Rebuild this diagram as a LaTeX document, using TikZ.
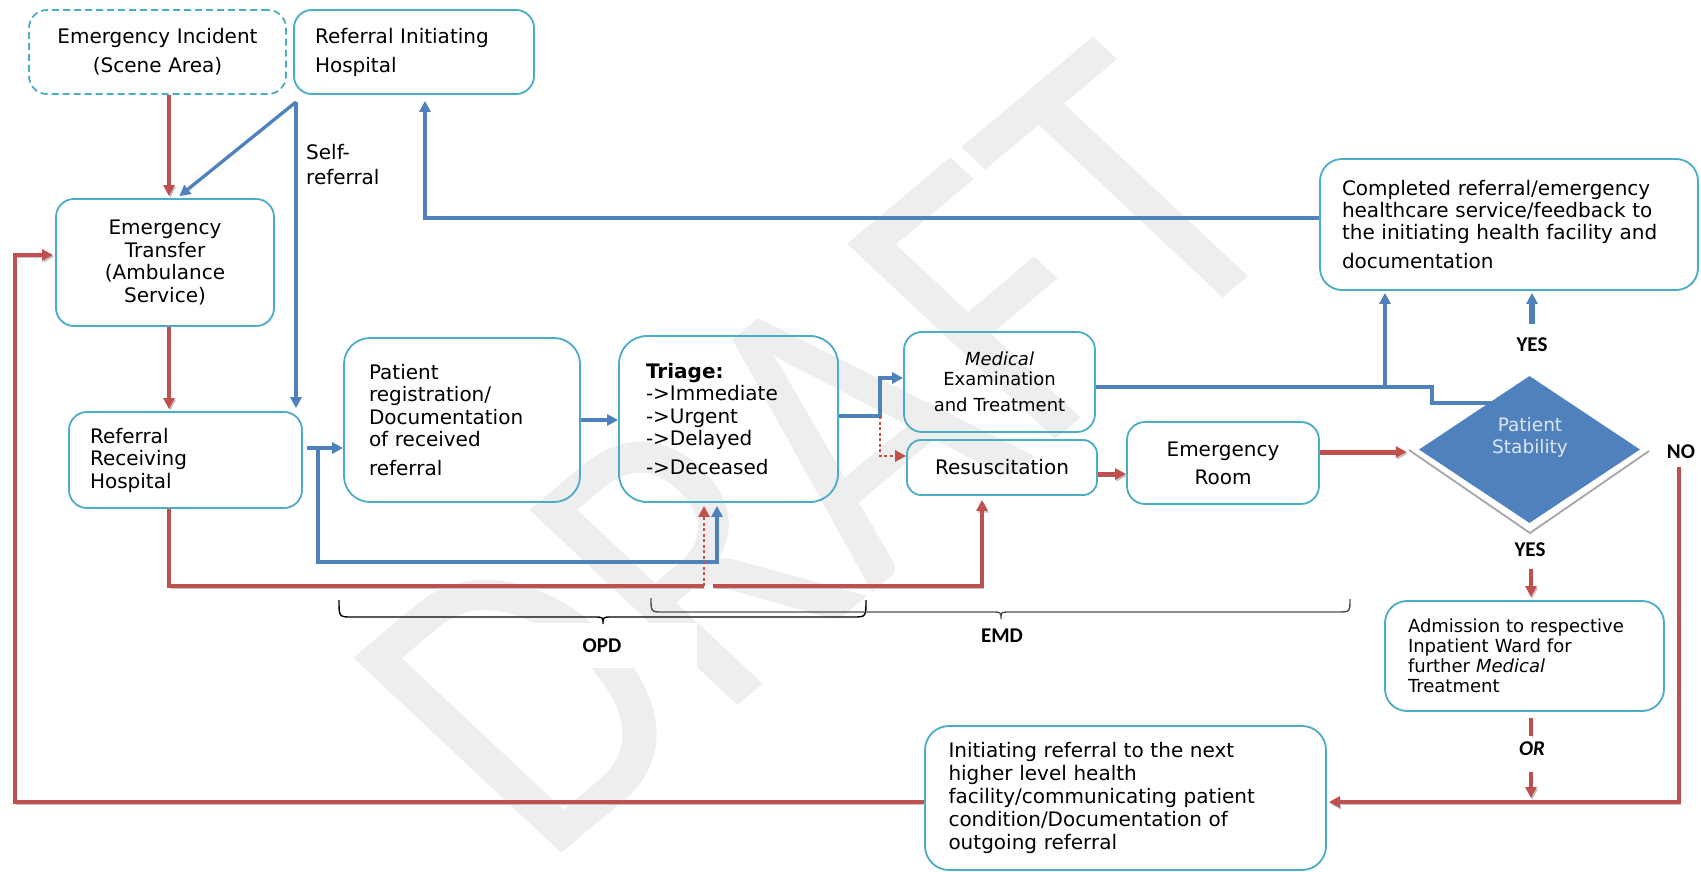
\documentclass[tikz,border=0pt]{standalone}
\usepackage{fontspec}
\setmainfont{DejaVu Sans}
\newfontfamily\calfont{Carlito}
\usetikzlibrary{arrows.meta,shapes.geometric}
\definecolor{boxc}{RGB}{75,172,198}
\definecolor{bluec}{RGB}{79,129,189}
\definecolor{redc}{RGB}{192,80,77}
\definecolor{dtext}{RGB}{222,228,242}
\definecolor{wmark}{RGB}{238,238,238}
\definecolor{bracec}{RGB}{80,80,80}
\begin{document}
\begin{tikzpicture}[x=1pt,y=-1pt,
  box/.style={draw=boxc, line width=1.8pt, rounded corners=18pt, inner sep=0pt, font=\fontsize{20}{22.5}\selectfont},
  bl/.style={draw=bluec, line width=3.3pt},
  blt/.style={draw=bluec, line width=5.5pt},
  rl/.style={draw=redc, line width=3.3pt, preaction={draw=black!22, transform canvas={xshift=1.2pt,yshift=-1.8pt}}},
  rlt/.style={draw=redc, line width=5pt, preaction={draw=black!22, transform canvas={xshift=1.2pt,yshift=-1.8pt}}},
  rdot/.style={draw=redc, line width=2.6pt, dash pattern=on 3pt off 2.5pt},
  arr/.style={-{Triangle[length=11pt,width=11pt]}},
  lbl/.style={inner sep=0pt, font=\fontsize{20}{25}\selectfont},
  yn/.style={inner sep=0pt, font=\calfont\bfseries\fontsize{21}{21}\selectfont},
  brace/.style={line width=1.4pt}
]
\useasboundingbox (0,0) rectangle (1701,872);
\fill[white] (0,0) rectangle (1701,872);

% watermark
\node[rotate=40, xslant=-0.12, yscale=1.19, text=wmark, inner sep=0pt, font=\calfont\fontsize{371}{371}\selectfont] (wm) at (820,452) {DRAFT};

% boxes
\node[box, dash pattern=on 7pt off 4pt, minimum width=257pt, minimum height=84pt, text width=230pt, align=center, font=\fontsize{20}{29}\selectfont] (inc) at (157.5,52) {Emergency Incident\\(Scene Area)};
\node[box, minimum width=240pt, minimum height=84pt, text width=198pt, align=left, font=\fontsize{20}{29}\selectfont] (rih) at (414,52) {Referral Initiating\\Hospital};
\node[box, minimum width=218pt, minimum height=127pt, text width=190pt, align=center] (et) at (165,262.5) {Emergency\\Transfer\\(Ambulance\\Service)};
\node[box, minimum width=233pt, minimum height=96pt, text width=191pt, align=left] (rrh) at (185.5,460) {Referral\\Receiving\\Hospital};
\node[box, rounded corners=26pt, minimum width=236pt, minimum height=164pt, text width=186pt, align=left] (prd) at (462,420) {Patient\\registration/\\Documentation\\of received\\[6pt]referral};
\node[box, rounded corners=28pt, minimum width=219pt, minimum height=166pt, text width=165pt, align=left] (tri) at (728.5,419) {\textbf{Triage:}\\->Immediate\\->Urgent\\->Delayed\\[6pt]->Deceased};
\node[box, minimum width=191pt, minimum height=100pt, text width=180pt, align=center, font=\fontsize{18}{20}\selectfont] (med) at (999.5,382) {\textit{Medical}\\Examination\\[6pt]and Treatment};
\node[box, rounded corners=14pt, minimum width=190pt, minimum height=55pt, text width=180pt, align=center] (res) at (1002,467.5) {Resuscitation};
\node[box, minimum width=192pt, minimum height=82pt, text width=180pt, align=center, font=\fontsize{20}{28}\selectfont] (er) at (1223,463) {Emergency\\Room};
\node[diamond, fill=bluec, minimum width=221pt, minimum height=147pt, inner sep=0pt] (ps) at (1529.5,449.5) {};
\node[text=dtext, align=center, inner sep=0pt, font=\fontsize{18.5}{22}\selectfont] (pst) at (1530,437) {Patient\\Stability};
\node[box, rounded corners=22pt, minimum width=378pt, minimum height=131pt, text width=334pt, align=left, font=\fontsize{20}{22}\selectfont] (comp) at (1509,224.5) {Completed referral/emergency\\healthcare service/feedback to\\the initiating health facility and\\[7pt]documentation};
\node[box, rounded corners=22pt, minimum width=279pt, minimum height=110pt, text width=233pt, align=left, font=\fontsize{18}{20}\selectfont] (adm) at (1524.5,656) {Admission to respective\\Inpatient Ward for\\further \textit{Medical}\\Treatment};
\node[box, rounded corners=24pt, minimum width=401pt, minimum height=144pt, text width=354pt, align=left, font=\fontsize{20}{22.8}\selectfont] (init) at (1125.5,798) {Initiating referral to the next\\higher level health\\facility/communicating patient\\condition/Documentation of\\outgoing referral};

% gray bevel under diamond
\draw[black!35, line width=1.8pt] (1409,450) -- (1530,533) -- (1649,451);

% labels
\node[lbl, anchor=west, align=left] (srl) at (306,164.5) {Self-\\referral};
\node[yn] (yes1) at (1532,345) {YES};
\node[yn] (yes2) at (1530,550) {YES};
\node[yn] (no) at (1681,452) {NO};
\node[yn, font=\calfont\bfseries\itshape\fontsize{21}{21}\selectfont] (orn) at (1532,749) {OR};
\node[yn, fill=white, minimum width=190pt, minimum height=45pt] (opd) at (602,645.5) {OPD};
\node[yn] (emd) at (1002,636) {EMD};

% coordinates
\coordinate (xa) at (169,0);
\coordinate (xb) at (177,0);
\coordinate (sr) at (296,102);
\coordinate (yb1) at (0,448);
\coordinate (bx1) at (318,448);
\coordinate (by1) at (0,562);
\coordinate (bx2) at (717,0);
\coordinate (ry) at (0,586);
\coordinate (rx1) at (704,0);
\coordinate (rx2) at (713,0);
\coordinate (rx3) at (982,0);
\coordinate (ty) at (0,416);
\coordinate (tx) at (880,0);
\coordinate (my) at (0,378);
\coordinate (ry2) at (0,456);
\coordinate (ery) at (0,474);
\coordinate (dy) at (0,452);
\coordinate (my2) at (0,387);
\coordinate (mx2) at (1432,0);
\coordinate (my3) at (0,403);
\coordinate (mx3) at (1508,403);
\coordinate (cx) at (1385,0);
\coordinate (rx) at (425,0);
\coordinate (cy) at (0,218);
\coordinate (ax) at (1531,0);
\coordinate (ry3) at (0,802);
\coordinate (nx) at (1679,0);
\coordinate (lx) at (15,0);
\coordinate (ly) at (0,255);

% connectors
\draw[rl,arr,shorten >=2pt] (inc.south -| xa) -- (et.north -| xa);
\draw[bl,arr,shorten >=3pt] (sr) -- (et.north -| xb);
\draw[bl,arr,shorten >=3pt] (sr) -- (rrh.north -| sr);
\draw[rl,arr,shorten >=2pt] (et.south -| xa) -- (rrh.north -| xa);
\draw[bl,arr,shorten <=4pt] (rrh.east |- yb1) -- (prd.west |- yb1);
\draw[bl,arr,shorten >=3pt] (bx1) -- (bx1 |- by1) -- (bx2 |- by1) -- (tri.south -| bx2);
\draw[bl,arr] (prd.east) -- (tri.west |- prd.east);
\draw[rl] (rrh.south -| xa) -- (xa |- ry) -- (rx1 |- ry);
\draw[rdot,arr,shorten >=3pt] (rx1 |- ry) -- (tri.south -| rx1);
\draw[rl,arr,shorten >=4pt] (rx2 |- ry) -- (rx3 |- ry) -- (res.south -| rx3);
\draw[bl,arr] (tri.east |- ty) -- (tx |- ty) -- (tx |- my) -- (med.west |- my);
\draw[rdot,arr] (tx |- ty) -- (tx |- ry2) -- (res.west |- ry2);
\draw[rlt,arr] (res.east |- ery) -- (er.west |- ery);
\draw[rlt,arr,shorten >=12pt] (er.east |- dy) -- (ps.west |- dy);
\draw[bl,arr] (med.east |- my2) -- (mx2 |- my2) -- (mx2 |- my3) -- (mx3);
\draw[bl,arr,shorten >=2pt] (cx |- my2) -- (comp.south -| cx);
\draw[blt,arr,shorten <=14pt,shorten >=2pt] (yes1.north) -- (comp.south -| yes1);
\draw[bl,arr,shorten >=6pt] (comp.west |- cy) -- (rx |- cy) -- (rih.south -| rx);
\draw[rl,arr,shorten <=12pt,shorten >=3pt] (yes2.south -| ax) -- (adm.north -| ax);
\draw[rl,shorten <=6pt,shorten >=6pt] (adm.south -| ax) -- (orn.north -| ax);
\draw[rl,arr,shorten <=16pt,shorten >=4pt] (orn.south -| ax) -- (ax |- ry3);
\draw[rl,arr,shorten <=8pt,shorten >=2pt] (no.south -| nx) -- (nx |- ry3) -- (init.east |- ry3);
\draw[rl,arr,shorten >=2pt] (init.west |- ry3) -- (lx |- ry3) -- (lx |- ly) -- (et.west |- ly);

% braces
\draw[brace, black] (339,600) .. controls (339,617) .. (352,617) -- (594,617) .. controls (603,617) .. (603,624) .. controls (603,617) .. (612,617) -- (853,617) .. controls (866,617) .. (866,600);
\draw[brace, bracec] (651,598) .. controls (651,612) .. (663,612) -- (992,612) .. controls (1001,612) .. (1001,619) .. controls (1001,612) .. (1010,612) -- (1338,612) .. controls (1350,612) .. (1350,599);
\end{tikzpicture}
\end{document}
